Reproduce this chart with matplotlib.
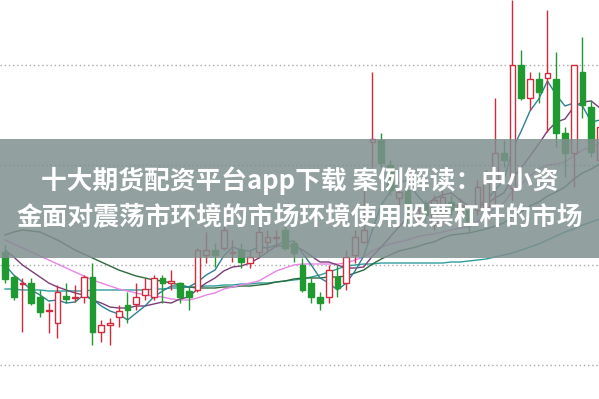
import matplotlib
matplotlib.use("Agg")
import matplotlib.pyplot as plt
from matplotlib.patches import Rectangle

# ---- data ----
opens = [21.3, 18.8, 18.1, 18.2, 16.8, 15.4, 14.2, 16.9, 16.7, 16.8,
         18.8, 13.3, 14.0, 14.8, 16.0, 16.1, 17.0, 16.8, 18.7, 18.2,
         18.2, 17.4, 17.5, 21.0, 21.5, 21.7, 21.2, 21.5, 20.2, 21.3,
         22.3, 22.7, 23.5, 22.2, 20.0, 18.2, 16.8, 16.8, 18.8, 18.2,
         21.0, 22.3, 32.3, 32.5, 30.0, 26.7, 27.5, 24.7, 26.0, 24.0,
         25.2, 26.3, 25.0, 25.5, 25.5, 25.8, 28.5, 31.2, 27.7, 40.0,
         36.7, 38.6, 38.7, 38.6, 33.2, 31.2, 39.3, 35.8, 30.5]
highs = [22.0, 19.0, 18.7, 18.7, 17.5, 16.2, 18.0, 18.2, 18.0, 19.0,
         20.2, 14.5, 14.7, 16.0, 17.3, 18.2, 18.7, 19.0, 19.0, 19.5,
         18.3, 17.8, 21.7, 23.3, 22.2, 24.0, 22.5, 22.2, 21.5, 24.0,
         23.5, 23.5, 24.2, 22.5, 20.7, 18.7, 17.3, 20.0, 20.0, 21.5,
         23.5, 27.5, 39.3, 33.2, 30.5, 28.0, 28.5, 26.0, 26.5, 27.0,
         27.5, 27.0, 26.7, 26.0, 28.5, 29.5, 36.7, 32.5, 46.5, 41.5,
         39.3, 39.3, 45.5, 41.3, 33.8, 40.0, 42.8, 36.5, 34.5]
lows = [18.2, 16.5, 13.3, 16.0, 14.8, 13.2, 12.7, 16.2, 16.3, 16.2,
        12.0, 12.3, 12.0, 13.8, 14.2, 15.5, 16.5, 16.5, 16.2, 17.5,
        16.2, 15.5, 17.3, 20.2, 19.8, 21.5, 20.3, 19.7, 19.7, 20.7,
        21.3, 21.8, 21.5, 20.3, 17.3, 16.2, 15.5, 16.2, 16.8, 17.5,
        20.2, 22.2, 29.8, 29.8, 27.0, 26.0, 24.0, 24.0, 24.3, 23.5,
        24.0, 25.0, 24.0, 23.2, 25.0, 25.5, 26.0, 29.8, 26.5, 36.5,
        35.5, 36.2, 33.3, 31.8, 28.8, 27.8, 34.7, 30.8, 30.0]
closes = [18.6, 16.8, 18.2, 16.2, 15.3, 15.5, 17.3, 16.6, 16.8, 18.8,
          13.3, 14.0, 14.2, 15.4, 15.5, 16.8, 17.6, 18.7, 18.2, 18.4,
          16.8, 16.8, 21.5, 21.5, 21.0, 23.5, 21.3, 20.3, 20.8, 23.3,
          22.8, 22.8, 21.7, 21.2, 17.5, 16.8, 16.2, 19.5, 17.7, 20.8,
          22.8, 23.5, 32.6, 30.2, 27.5, 27.3, 25.0, 25.5, 25.0, 26.5,
          26.8, 25.5, 26.0, 24.0, 27.8, 28.5, 31.2, 30.5, 40.0, 36.7,
          38.6, 37.3, 39.2, 33.2, 31.2, 40.0, 36.0, 31.3, 33.8]

ma5 = [20.0, 19.0, 18.3, 17.5, 17.0, 16.4, 16.5, 16.2, 16.3, 17.0,
       16.6, 15.9, 15.4, 15.1, 14.5, 15.2, 15.9, 16.8, 17.4, 17.9,
       17.9, 17.8, 18.3, 19.0, 19.5, 20.9, 21.8, 21.5, 21.4, 21.8,
       21.7, 22.0, 22.3, 22.4, 21.2, 20.0, 18.7, 18.2, 17.5, 18.2,
       19.4, 20.9, 23.5, 26.0, 27.3, 28.2, 28.5, 27.1, 26.1, 25.9,
       25.8, 25.9, 26.0, 25.8, 26.0, 26.4, 27.5, 28.4, 31.6, 33.4,
       35.4, 36.6, 38.4, 37.0, 35.9, 36.2, 35.9, 34.3, 34.5]
ma10 = [21.5, 20.8, 20.0, 19.4, 18.8, 18.2, 17.8, 17.5, 17.2, 17.0,
        16.5, 16.2, 15.8, 15.7, 15.7, 15.9, 15.9, 16.1, 16.3, 16.2,
        16.6, 16.8, 17.6, 18.2, 18.7, 19.4, 19.8, 19.9, 20.2, 20.7,
        21.3, 21.9, 21.9, 21.9, 21.5, 20.9, 20.3, 20.3, 20.0, 19.7,
        19.7, 19.8, 20.9, 21.8, 22.8, 23.8, 24.7, 25.3, 26.0, 26.6,
        27.0, 27.2, 26.5, 25.9, 25.9, 26.1, 26.7, 27.2, 28.7, 29.7,
        30.9, 32.1, 33.4, 34.3, 34.6, 35.8, 36.3, 36.4, 35.7]
ma20 = [22.5, 22.1, 21.7, 21.3, 20.9, 20.5, 20.1, 19.7, 19.3, 18.9,
        18.5, 18.2, 17.9, 17.6, 17.4, 17.2, 17.0, 16.9, 16.8, 16.6,
        16.5, 16.5, 16.7, 17.0, 17.2, 17.6, 17.8, 18.0, 18.2, 18.4,
        18.9, 19.4, 19.7, 20.0, 20.1, 20.1, 20.1, 20.1, 20.1, 20.2,
        20.5, 20.8, 21.4, 21.8, 22.1, 22.3, 22.5, 22.8, 23.0, 23.1,
        23.3, 23.5, 23.7, 23.8, 24.4, 24.9, 25.7, 26.2, 27.4, 28.1,
        28.9, 29.6, 30.0, 30.1, 30.3, 30.9, 31.5, 31.8, 32.2]
ma30 = [23.0, 23.3, 23.5, 23.4, 23.3, 22.9, 22.5, 22.0, 21.5, 21.1,
        20.7, 20.3, 19.9, 19.5, 19.2, 18.9, 18.7, 18.5, 18.4, 18.2,
        18.0, 17.8, 17.7, 17.7, 17.7, 17.8, 17.8, 17.9, 17.9, 18.0,
        18.1, 18.3, 18.4, 18.6, 18.7, 18.7, 18.7, 18.8, 18.8, 18.9,
        19.2, 19.5, 20.1, 20.6, 21.0, 21.4, 21.6, 21.8, 22.1, 22.3,
        22.7, 23.0, 23.1, 23.2, 23.4, 23.6, 23.9, 24.2, 24.9, 25.3,
        25.9, 26.3, 26.9, 27.3, 27.8, 28.6, 29.2, 29.6, 30.1]
ma60 = [17.6, 17.6, 17.5, 17.5, 17.5, 17.4, 17.4, 17.4, 17.4, 17.4,
        17.5, 17.5, 17.5, 17.5, 17.5, 17.5, 17.5, 17.6, 17.6, 17.7,
        17.7, 17.8, 17.8, 17.9, 17.9, 18.0, 18.0, 18.1, 18.1, 18.2,
        18.2, 18.3, 18.4, 18.5, 18.6, 18.8, 19.0, 19.3, 19.6, 19.9,
        20.0, 20.1, 20.1, 20.2, 20.2, 20.2, 20.2, 20.2, 20.2, 20.2,
        20.2, 20.3, 20.3, 20.4, 20.5, 20.6, 20.8, 21.0, 21.2, 21.5,
        21.8, 22.1, 22.5, 22.9, 23.3, 23.6, 24.0, 24.3, 24.6]

grid_levels = [10, 20, 30, 40]
title_lines = ["十大期货配资平台app下载 案例解读：中小资",
               "金面对震荡市环境的市场环境使用股票杠杆的市场"]

# ---- styling ----
UP = "#d42a3c"
DOWN = "#1f9a30"

fig = plt.figure(figsize=(5.99, 3.99), dpi=100)
ax = fig.add_axes([0, 0, 1, 1])
ax.set_xlim(-0.571, 67.886)
ax.set_ylim(6.6, 46.5)
ax.axis("off")

for g in grid_levels:
    ax.axhline(g, color="#a8a8a8", lw=1.0, ls=(0, (1, 2)), zorder=1)

idx = list(range(len(closes)))
ax.plot(idx, ma60, color="#2f9c9c", lw=1.0, zorder=2)
ax.plot(idx, ma30, color="#2e6a3c", lw=1.0, zorder=2)
ax.plot(idx, ma20, color="#e685e6", lw=1.0, zorder=2)
ax.plot(idx, ma10, color="#7b3d78", lw=1.0, zorder=2)
ax.plot(idx, ma5, color="#2f7f95", lw=1.0, zorder=2)

w = 0.68
for i, (o, h, l, c) in enumerate(zip(opens, highs, lows, closes)):
    up = c >= o
    col = UP if up else DOWN
    ax.vlines(i, l, h, color=col, lw=1.0, zorder=3)
    bottom = min(o, c)
    height = max(abs(c - o), 0.15)
    if up:
        ax.bar(i, height, w, bottom=bottom, facecolor="white",
               edgecolor=col, linewidth=1.0, zorder=4)
    else:
        ax.bar(i, height, w, bottom=bottom, facecolor=col,
               edgecolor=col, linewidth=1.0, zorder=4)

# banner
ax.add_patch(Rectangle((0, 0.3534), 1, 0.2982, transform=ax.transAxes,
                       facecolor=(0.50, 0.56, 0.56), alpha=0.85,
                       edgecolor="none", zorder=10))
for yy, t in zip([0.5464, 0.4536], title_lines):
    ax.text(0.5, yy, t, transform=ax.transAxes, ha="center", va="center",
            color="white", fontsize=18.5, fontweight="bold",
            family=["Noto Sans CJK SC", "DejaVu Sans"], zorder=11)

fig.savefig("out.png", dpi=100)
